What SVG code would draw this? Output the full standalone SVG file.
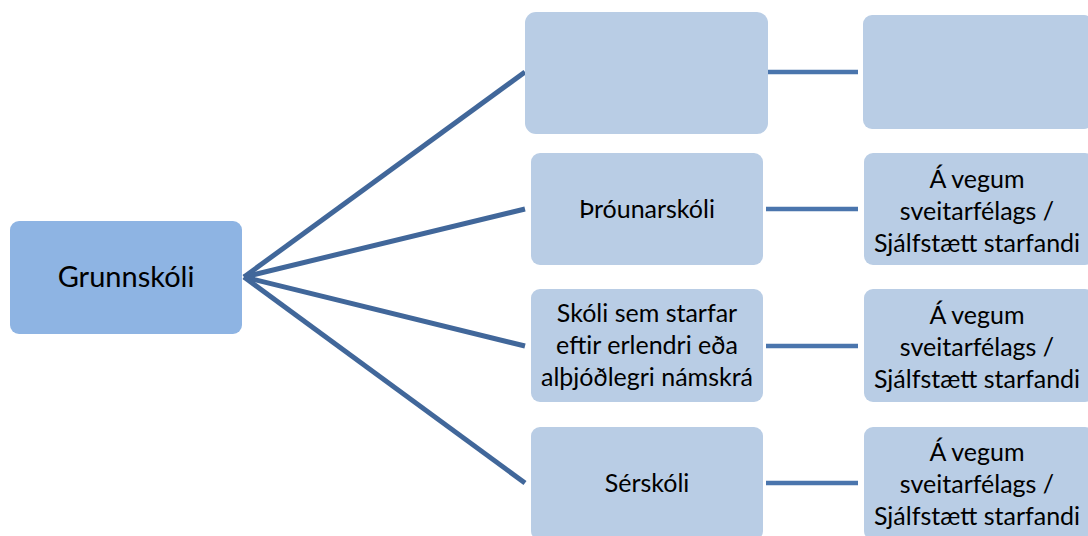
<svg xmlns="http://www.w3.org/2000/svg" width="1088" height="536" viewBox="0 0 1088 536">
<style>
.root{fill:#8EB4E3}
.box{fill:#B9CDE5}
.t{font-family:Lato,"Liberation Sans",sans-serif;fill:#000;text-anchor:middle}
.sm{font-size:25px}
.big{font-size:29px}
.spoke{stroke:#41679A;stroke-width:5;fill:none}
.link{stroke:#4A75AD;stroke-width:4.5;fill:none}
</style>
<rect width="1088" height="536" fill="#fff"/>
<g id="connectors">
<line class="spoke" x1="244" y1="277" x2="525" y2="72"/>
<line class="spoke" x1="244" y1="277" x2="525" y2="209"/>
<line class="spoke" x1="244" y1="277" x2="525" y2="346"/>
<line class="spoke" x1="244" y1="277" x2="525" y2="483"/>
<line class="link" x1="768" y1="72" x2="858" y2="72"/>
<line class="link" x1="766" y1="209" x2="858" y2="209"/>
<line class="link" x1="766" y1="346" x2="858" y2="346"/>
<line class="link" x1="766" y1="483" x2="858" y2="483"/>
</g>
<g id="root">
<rect class="root" x="10" y="221" width="232" height="113" rx="9"/>
<text class="t big" x="126" y="287">Grunnskóli</text>
</g>
<g id="top-middle">
<rect class="box" x="525" y="12" width="243" height="122" rx="11"/>
</g>
<g id="top-right">
<rect class="box" x="863" y="15" width="230" height="114" rx="9"/>
</g>
<g id="throunarskoli">
<rect class="box" x="531" y="153" width="232" height="112" rx="9"/>
<text class="t sm" x="647" y="218">Þróunarskóli</text>
</g>
<g id="throunarskoli-rekstur">
<rect class="box" x="864" y="153" width="230" height="112" rx="9"/>
<text class="t sm" x="977" y="188">Á vegum</text>
<text class="t sm" x="977" y="220">sveitarfélags /</text>
<text class="t sm" x="977" y="252">Sjálfstætt starfandi</text>
</g>
<g id="erlend-namskra">
<rect class="box" x="531" y="289" width="232" height="113" rx="9"/>
<text class="t sm" x="647" y="322">Skóli sem starfar</text>
<text class="t sm" x="647" y="354">eftir erlendri eða</text>
<text class="t sm" x="647" y="386">alþjóðlegri námskrá</text>
</g>
<g id="erlend-rekstur">
<rect class="box" x="864" y="289" width="230" height="113" rx="9"/>
<text class="t sm" x="977" y="324">Á vegum</text>
<text class="t sm" x="977" y="356">sveitarfélags /</text>
<text class="t sm" x="977" y="388">Sjálfstætt starfandi</text>
</g>
<g id="serskoli">
<rect class="box" x="531" y="427" width="232" height="113" rx="9"/>
<text class="t sm" x="647" y="492">Sérskóli</text>
</g>
<g id="serskoli-rekstur">
<rect class="box" x="864" y="427" width="230" height="113" rx="9"/>
<text class="t sm" x="977" y="461">Á vegum</text>
<text class="t sm" x="977" y="493">sveitarfélags /</text>
<text class="t sm" x="977" y="525">Sjálfstætt starfandi</text>
</g>
</svg>
